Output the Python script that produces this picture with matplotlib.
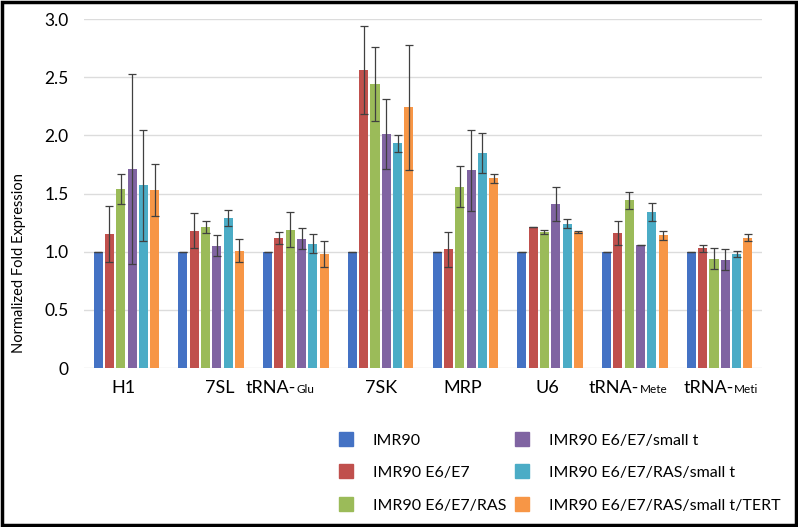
import numpy as np
import matplotlib.pyplot as plt
from matplotlib.patches import Rectangle
from matplotlib.lines import Line2D

plt.rcParams['font.family'] = ['Lato', 'DejaVu Sans']

# category labels: main part + small suffix
cat_main = ['H1', '7SL', 'tRNA-', '7SK', 'MRP', 'U6', 'tRNA-', 'tRNA-']
cat_small = ['', '', 'Glu', '', '', '', 'Mete', 'Meti']

series = ['IMR90', 'IMR90 E6/E7', 'IMR90 E6/E7/RAS', 'IMR90 E6/E7/small t',
          'IMR90 E6/E7/RAS/small t', 'IMR90 E6/E7/RAS/small t/TERT']
colors = ['#4472C4', '#C0504D', '#9BBB59', '#8064A2', '#4BACC6', '#F79646']

imr90 = [1.00, 1.00, 1.00, 1.00, 1.00, 1.00, 1.00, 1.00]
e6e7 = [1.15, 1.18, 1.12, 2.56, 1.02, 1.21, 1.16, 1.03]
e6e7_ras = [1.54, 1.21, 1.19, 2.44, 1.56, 1.17, 1.44, 0.94]
e6e7_st = [1.71, 1.05, 1.11, 2.01, 1.70, 1.41, 1.06, 0.93]
e6e7_ras_st = [1.57, 1.29, 1.07, 1.93, 1.85, 1.24, 1.34, 0.98]
e6e7_ras_st_tert = [1.53, 1.01, 0.98, 2.24, 1.63, 1.17, 1.14, 1.12]

err_imr90 = [0, 0, 0, 0, 0, 0, 0, 0]
err_e6e7 = [0.24, 0.15, 0.05, 0.38, 0.15, 0.0, 0.10, 0.03]
err_e6e7_ras = [0.13, 0.05, 0.15, 0.32, 0.18, 0.02, 0.07, 0.09]
err_e6e7_st = [0.82, 0.09, 0.09, 0.30, 0.35, 0.15, 0.0, 0.09]
err_e6e7_ras_st = [0.48, 0.07, 0.08, 0.07, 0.17, 0.04, 0.08, 0.03]
err_e6e7_ras_st_tert = [0.22, 0.10, 0.11, 0.54, 0.04, 0.01, 0.04, 0.03]

values = [imr90, e6e7, e6e7_ras, e6e7_st, e6e7_ras_st, e6e7_ras_st_tert]
errors = [err_imr90, err_e6e7, err_e6e7_ras, err_e6e7_st, err_e6e7_ras_st, err_e6e7_ras_st_tert]

fig = plt.figure(figsize=(7.98, 5.27), dpi=100)
ax = fig.add_axes([0.1053, 0.3017, 0.8496, 0.6622])

x = np.arange(len(cat_main))
slot = 0.8 / len(series)
for i in range(len(series)):
    pos = x - 0.4 + slot * (i + 0.5)
    ax.bar(pos, values[i], width=slot * 0.8, color=colors[i], zorder=2)
    ax.errorbar(pos, values[i], yerr=errors[i], fmt='none', ecolor='#404040',
                elinewidth=0.9, capsize=3, capthick=0.9, zorder=3)

ax.set_xlim(-0.5, len(cat_main) - 0.5)
ax.set_ylim(0, 3.0)
ax.set_yticks([0, 0.5, 1.0, 1.5, 2.0, 2.5, 3.0])
ax.set_yticklabels(['0', '0.5', '1.0', '1.5', '2.0', '2.5', '3.0'], fontsize=12.5)
ax.tick_params(axis='y', length=0, pad=11)
ax.set_xticks([])
ax.yaxis.grid(True, color='#DCDCDC', linewidth=1)
ax.set_axisbelow(True)
for s in ax.spines.values():
    s.set_visible(False)

# y label drawn as plain text so its position is explicit
ax.text(-0.096, 0.30, 'Normalized Fold Expression', transform=ax.transAxes,
        rotation=90, ha='center', va='center', fontsize=10.5)

# category labels
label_dx = [-2, 6, 0, 0, -2, -2, 3, 10]
for i in range(len(cat_main)):
    if cat_small[i]:
        ax.annotate(cat_main[i], xy=(x[i], 0), xycoords=('data', 'axes fraction'),
                    xytext=(label_dx[i], -18), textcoords='offset points',
                    ha='right', va='baseline', fontsize=13)
        ax.annotate(cat_small[i], xy=(x[i], 0), xycoords=('data', 'axes fraction'),
                    xytext=(label_dx[i] + 0.5, -18), textcoords='offset points',
                    ha='left', va='baseline', fontsize=8.5)
    else:
        ax.annotate(cat_main[i], xy=(x[i], 0), xycoords=('data', 'axes fraction'),
                    xytext=(label_dx[i], -18), textcoords='offset points',
                    ha='center', va='baseline', fontsize=13)

# legend
handles = [Line2D([], [], marker='s', linestyle='none', markersize=10,
                  markerfacecolor=c, markeredgecolor=c) for c in colors]
fig.legend(handles, series, loc='upper left', bbox_to_anchor=(0.405, 0.205),
           ncol=2, frameon=False, fontsize=11.5, handletextpad=1.2,
           columnspacing=0.5, labelspacing=1.15, handlelength=1.0)

fig.patches.append(Rectangle((0.002, 0.003), 0.996, 0.994, transform=fig.transFigure,
                             fill=False, edgecolor='black', linewidth=2.5))

fig.savefig('out.png', dpi=100)
